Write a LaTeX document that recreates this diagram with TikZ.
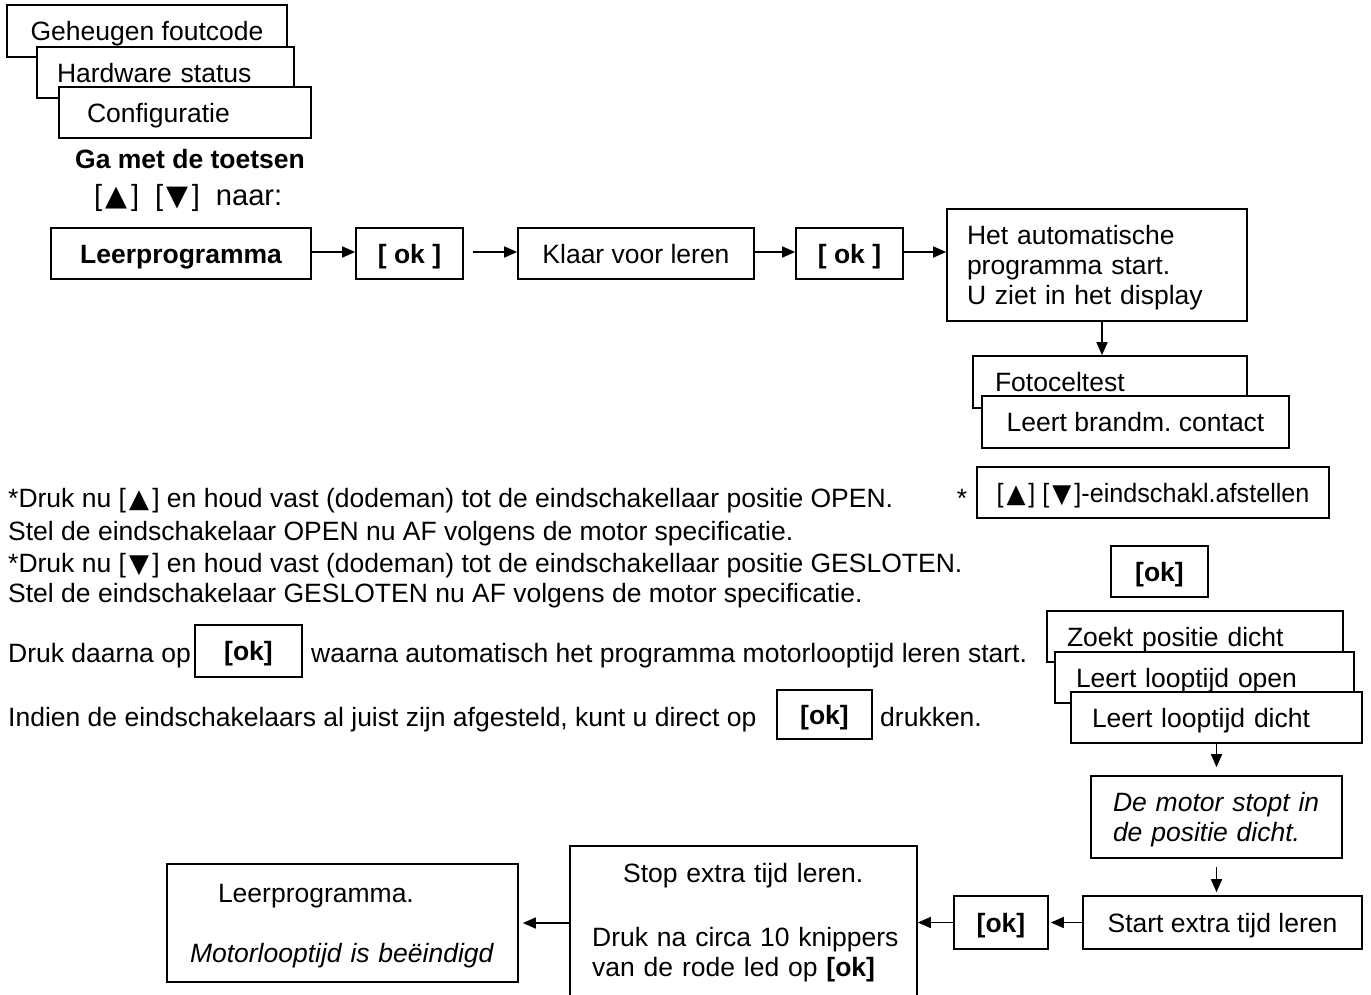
\documentclass[tikz,border=0pt]{standalone}
\usepackage{fontspec}
\setmainfont{Liberation Sans}
\newfontfamily\symf{DejaVu Sans}
\newlength\trw
\newcommand\triup{\makebox[\trw]{\symf\fontsize{26}{30}\selectfont ▲}}
\newcommand\tridn{\makebox[\trw]{\symf\fontsize{26}{30}\selectfont ▼}}
\usetikzlibrary{arrows.meta}
\begin{document}
\frenchspacing
\settowidth\trw{\fontsize{26.5}{30}\selectfont ▲}
\begin{tikzpicture}[x=1pt,y=-1pt,
  every node/.style={font=\fontsize{26.5}{30}\selectfont, inner sep=0pt},
  box/.style={draw, fill=white, line width=1.6pt, text height=19pt, text depth=0pt},
  lbox/.style={box, align=left},
  bbox/.style={box, font=\fontsize{26.5}{30}\selectfont\bfseries},
  arr/.style={line width=1.5pt, -{Triangle[length=13pt,width=11pt]}},
  txt/.style={anchor=base west},
]
\useasboundingbox (0,0) rectangle (1371,994);
\clip (0,0) rectangle (1371,994);
\fill[white] (0,0) rectangle (1371,994);

% top stacked boxes
\node[box, minimum width=280pt, minimum height=52pt] (geh) at (147,31) {Geheugen foutcode};
\node[lbox, text width=217pt, inner xsep=20pt, minimum height=51pt] (hw) at (165.5,72.5) {Hardware status};
\node[lbox, text width=196pt, inner xsep=28pt, minimum height=51pt] (conf) at (185,112.5) {Configuratie};

\node[anchor=base, font=\fontsize{26.5}{30}\selectfont\bfseries] (ga) at (190,168.5) {Ga met de toetsen};
\node[anchor=base west] (naar) at (94,205) {\scalebox{1.1}{[\triup]\hspace{7pt} [\tridn]\hspace{7pt} naar:}};

% main row
\node[bbox, minimum width=260pt, minimum height=51pt] (leer) at (181,253.5) {Leerprogramma};
\node[bbox, minimum width=107pt, minimum height=51pt] (ok1) at (409.5,253.5) {[ ok ]};
\node[box, minimum width=236pt, minimum height=51pt] (klaar) at (636,253.5) {Klaar voor leren};
\node[bbox, minimum width=107pt, minimum height=51pt] (ok2) at (849.5,253.5) {[ ok ]};
\node[lbox, text width=260pt, inner xsep=20pt, minimum height=112pt, text depth=60pt] (het) at (1097,265)
  {Het automatische\\programma start.\\U ziet in het display};

\node[lbox, text width=230pt, inner xsep=22pt, minimum height=52pt] (foto) at (1110,382) {Fotoceltest};
\node[box, minimum width=307pt, minimum height=52pt] (brand) at (1135.5,422) {Leert brandm. contact};

\node[anchor=base] (ster) at (962,507) {*};
\node[box, minimum width=352pt, minimum height=51pt] (eind) at (1153,492.5)
  {\scalebox{0.95}[1]{[\triup] [\tridn]-eindschakl.afstellen}};
\node[bbox, minimum width=97pt, minimum height=51pt] (okA) at (1159.5,571.5) {[ok]};

\node[lbox, text width=256pt, inner xsep=20pt, minimum height=51pt] (zoek) at (1195,636.5) {Zoekt positie dicht};
\node[lbox, text width=257pt, inner xsep=21pt, minimum height=51pt] (lopen) at (1204.5,677.5) {Leert looptijd open};
\node[lbox, text width=249pt, inner xsep=21pt, minimum height=51pt] (ldicht) at (1216.5,717.5) {Leert looptijd dicht};

\node[lbox, text width=207pt, inner xsep=22pt, minimum height=82pt, text depth=30pt,
  font=\fontsize{26.5}{30}\selectfont\itshape] (motor) at (1216.5,817)
  {De motor stopt in\\de positie dicht.};

\node[box, minimum width=279pt, minimum height=53pt] (start) at (1222.5,922.5) {Start extra tijd leren};
\node[bbox, minimum width=94pt, minimum height=53pt] (okB) at (1001,922.5) {[ok]};
\node[draw, fill=white, line width=1.6pt, minimum width=347pt, minimum height=164pt] (stop) at (743.5,928) {};
\node[anchor=north west, text width=310pt, align=left, text height=19pt, text depth=93pt] (stoptxt) at (592,863.5)
  {\makebox[302pt]{Stop extra tijd leren.}\\[34pt]Druk na circa 10 knippers\\van de rode led op \textbf{[ok]}};
\node[lbox, text width=305pt, inner xsep=23pt, minimum height=118pt, text depth=60pt] (leer2) at (342.5,923)
  {\hspace*{28pt}Leerprogramma.\\[30pt]\textit{Motorlooptijd is beëindigd}};

% left text block
\node[txt] (l1) at (8,507.5) {*Druk nu [\triup] en houd vast (dodeman) tot de eindschakellaar positie OPEN.};
\node[txt] (l2) at (8,540.5) {Stel de eindschakelaar OPEN nu AF volgens de motor specificatie.};
\node[txt] (l3) at (8,572.5) {*Druk nu [\tridn] en houd vast (dodeman) tot de eindschakellaar positie GESLOTEN.};
\node[txt] (l4) at (8,602.5) {Stel de eindschakelaar GESLOTEN nu AF volgens de motor specificatie.};

\node[txt] (d1) at (8,662.5) {Druk daarna op};
\node[bbox, minimum width=107pt, minimum height=52pt] (okC) at (248.5,651) {[ok]};
\node[txt] (d2) at (311,662.5) {waarna automatisch het programma motorlooptijd leren start.};

\node[txt] (i1) at (8,726.5) {Indien de eindschakelaars al juist zijn afgesteld, kunt u direct op};
\node[bbox, minimum width=95pt, minimum height=49pt] (okD) at (824.5,714.5) {[ok]};
\node[txt] (i2) at (880,726.5) {drukken.};

% connectors
\draw[arr] ([yshift=1.5pt]leer.east) -- ([yshift=1.5pt]ok1.west);
\draw[arr, shorten <=9pt] ([yshift=1.5pt]ok1.east) -- ([yshift=1.5pt]klaar.west);
\draw[arr] ([yshift=1.5pt]klaar.east) -- ([yshift=1.5pt]ok2.west);
\draw[arr] ([yshift=1.5pt]ok2.east) -- ([yshift=1.5pt]ok2.east -| het.west);
\draw[arr] ([xshift=5pt]het.south) -- ([xshift=5pt]het.south |- foto.north);
\draw[arr, shorten >=8pt] (ldicht.south) -- (ldicht.south |- motor.north);
\draw[arr, shorten <=8pt, shorten >=3pt] (motor.south) -- (motor.south |- start.north);
\draw[arr, shorten >=2pt] (start.west) -- (okB.east);
\draw[arr] (okB.west) -- (okB.west -| stop.east);
\draw[arr, shorten >=4pt] (stop.west |- leer2.east) -- (leer2.east);
\end{tikzpicture}
\end{document}
